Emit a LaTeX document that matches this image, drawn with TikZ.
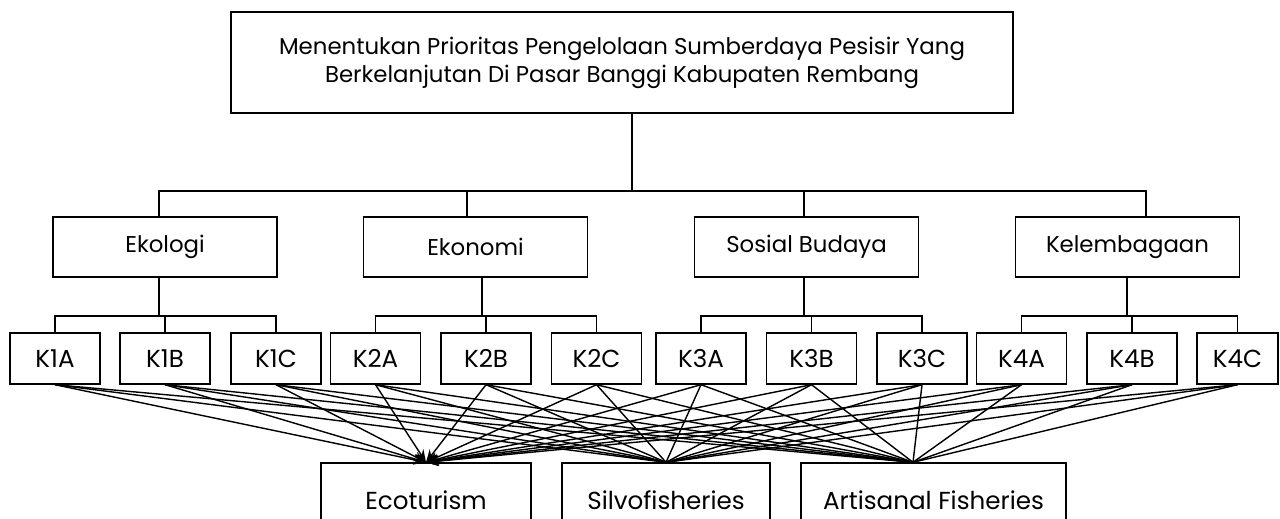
\documentclass[tikz,border=0pt]{standalone}
\usepackage{fontspec}
\setmainfont{Poppins}
\usetikzlibrary{arrows.meta}

\begin{document}
\begin{tikzpicture}[x=0.02cm, y=-0.02cm, line width=0.8pt,
    box/.style={draw, line width=0.8pt, inner sep=0pt, align=center, font=\fontsize{13}{16}\selectfont},
    kbox/.style={box, minimum width=1.8cm, minimum height=1.02cm, font=\fontsize{14}{17}\selectfont},
    crit/.style={box, minimum width=4.48cm, minimum height=1.2cm},
    alt/.style={box, minimum height=1.48cm, font=\fontsize{14}{17}\selectfont}]
      \useasboundingbox (0,0) rectangle (1280,519);
      \node[box, minimum width=15.64cm, minimum height=2.02cm] (goal) at (622,62.5)
            {Menentukan Prioritas Pengelolaan Sumberdaya Pesisir Yang\\Berkelanjutan Di Pasar Banggi Kabupaten Rembang};
      \node[crit] (ekol) at (165,247) {Ekologi};
      \node[crit] (ekon) at (475.5,247) {Ekonomi};
      \node[crit] (sos) at (806.5,247) {Sosial Budaya};
      \node[crit] (kel) at (1127.5,247) {Kelembagaan};
      \foreach \n/\x in {k1a/55, k1b/165, k1c/276, k2a/375.5, k2b/486, k2c/596.5,
                         k3a/701, k3b/811.5, k3c/922, k4a/1021.5, k4b/1132}
            \node[kbox] (\n) at (\x,358.5) {\MakeUppercase{\n}};
      \node[kbox, minimum width=1.62cm] (k4c) at (1237.5,358.5) {K4C};
      \node[alt, minimum width=4.2cm] (eco) at (426,500) {Ecoturism};
      \node[alt, minimum width=4.16cm] (silvo) at (666,500) {Silvofisheries};
      \node[alt, minimum width=5.3cm] (art) at (933.5,500) {Artisanal Fisheries};
      \coordinate (t3) at ([xshift=-0.41cm]art.north);

      \draw (goal.south -| 632,0) -- (632,191);
      \draw (ekol.north -| 159,0) |- (1146,191) -- (kel.north -| 1146,0);
      \draw (ekon.north -| 467,0) -- (467,191);
      \draw (sos.north -| 804,0) -- (804,191);

      \draw (ekol.south -| 159,0) -- (159,316);
      \draw (ekon.south -| 482,0) -- (482,316);
      \draw (sos.south -| 804,0) -- (804,316);
      \draw (kel.south -| 1127,0) -- (1127,316);
      \draw (k1a.north) |- (k1c.north |- 0,316) -- (k1c.north);
      \draw (k2a.north) |- (k2c.north |- 0,316) -- (k2c.north);
      \draw (k3a.north) |- (k3c.north |- 0,316) -- (k3c.north);
      \draw (k4a.north) |- (k4c.north |- 0,316) -- (k4c.north);
      \draw (k1b.north) -- (k1b.north |- 0,316);
      \draw (k2b.north) -- (k2b.north |- 0,316);
      \draw (k3b.north) -- (k3b.north |- 0,316);
      \draw (k4b.north) -- (k4b.north |- 0,316);

      \foreach \k in {k1a,k1b,k1c,k2a,k2b,k2c,k3a,k3b,k3c,k4a,k4b,k4c} {
            \draw[-{Stealth[length=2.5mm, width=2mm]}] (\k.south) -- (eco.north);
            \draw (\k.south) -- (silvo.north);
            \draw (\k.south) -- (t3);
      }
\end{tikzpicture}
\end{document}
